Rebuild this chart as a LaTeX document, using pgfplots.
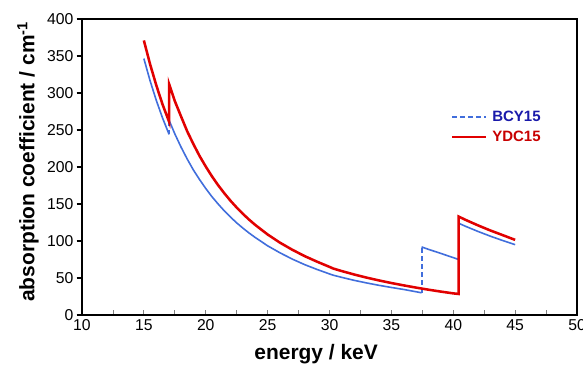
\documentclass[border=0pt]{standalone}
\usepackage{pgfplots}
\pgfplotsset{compat=1.18}
\usepackage{fontspec}
\setmainfont{Liberation Sans}
\definecolor{bcyline}{RGB}{65,110,220}
\definecolor{bcytext}{RGB}{25,25,170}
\definecolor{ydcline}{RGB}{225,0,0}
\definecolor{ydctext}{RGB}{200,0,0}
\tikzset{bcydash/.style={color=bcyline, draw=bcyline, line width=1.3pt, dash pattern=on 3.5pt off 2.5pt}}
\begin{document}
\begin{tikzpicture}
\begin{axis}[
  name=ax,
  scale only axis, width=371.25pt, height=222pt,
  xmin=10, xmax=50, ymin=0, ymax=400,
  xtick={10,15,...,50}, minor xtick={12.5,17.5,...,47.5},
  ytick={0,50,...,400},
  xtick pos=bottom, ytick pos=left,
  tick align=inside,
  major tick length=4pt, minor tick length=4pt,
  y tick style={xshift=-4pt, line width=0.8pt, black},
  x tick style={line width=0.6pt, gray},
  axis line style={line width=1.5pt},
  /pgf/number format/assume math mode=true,
  ticklabel style={font=\fontsize{11.8}{14}\selectfont},
  yticklabel style={xshift=-3pt},
  xlabel={energy / keV},
  ylabel={absorption coefficient / cm\textsuperscript{-1}},
  xlabel style={font=\fontsize{15.7}{18}\selectfont\bfseries, at={(axis description cs:0.473,-0.132)}, anchor=center},
  ylabel style={font=\fontsize{15.7}{18}\selectfont\bfseries, at={(axis description cs:-0.109,0.518)}, anchor=center},
  legend style={at={(axis cs:39.5,283.5)}, anchor=north west, draw=none, fill=none,
    font=\fontsize{11.25}{13}\selectfont\bfseries, row sep=1.8pt},
  legend cell align=left,
  legend image code/.code={\draw[#1] (0pt,0pt) -- (25pt,0pt);},
]
\addlegendimage{bcydash}
\addlegendentry{\hspace{2pt}\textcolor{bcytext}{BCY15}}
\addlegendimage{color=ydcline, line width=1.7pt}
\addlegendentry{\hspace{2pt}\textcolor{ydctext}{YDC15}}
% BCY15
\addplot[color=bcyline, line width=1.2pt, forget plot] coordinates {
 (15.0,346.5)(15.5,316.6)(16.0,290.2)(16.5,266.6)(17.04,244)};
\addplot[bcydash, line width=1.4pt, forget plot] coordinates {
 (17.04,244)(17.04,263)};
\addplot[color=bcyline, line width=1.2pt, forget plot] coordinates {
 (17.04,263)(17.5,244.8)(18,227)(18.5,210.8)(19,196)(19.5,183)(20,171)(20.5,159.9)(21,150)(21.5,140.7)(22,132.3)(22.5,124.5)(23,117.4)(23.5,110.8)(24,104.7)(25,93.5)(26,84)(27,75.5)(28,68)(29,61.5)(30,55.5)(30.3,53.8)(31,50.8)(32,46.8)(33,43.3)(34,40.1)(35,37.2)(36,34.5)(37,31.4)(37.44,30)};
\addplot[bcydash, line width=1.5pt, forget plot] coordinates {
 (37.44,30)(37.44,92)};
\addplot[color=bcyline, line width=1.2pt, forget plot] coordinates {
 (37.44,92)(38,88.7)(39,83.2)(40,77.5)(40.44,75)};
\addplot[bcydash, line width=1.4pt, forget plot] coordinates {
 (40.44,75)(40.44,124)};
\addplot[color=bcyline, line width=1.2pt, forget plot] coordinates {
 (40.44,124)(41,119.8)(42,112.9)(43,106.5)(44,100.6)(45,95)};
% YDC15
\addplot[color=ydcline, line width=1.9pt, forget plot] coordinates {
 (15,371)(15.5,339)(16,310.6)(16.5,285)(17.04,261)(17.04,312)(17.5,289.1)(18,268.5)(18.5,248.3)(19,231)(19.5,214.9)(20,200.6)(20.5,187.4)(21,175.4)(21.5,164.5)(22,154.4)(22.5,145.2)(23,136.7)(23.5,128.9)(24,121.7)(25,108.8)(26,97.7)(27,88.1)(28,79.5)(29,72)(30,65)(30.3,62.8)(31,59.3)(32,54.7)(33,50.5)(34,46.7)(35,43.2)(36,40)(37,37)(38,34.2)(39,31.6)(40,29.2)(40.44,28.4)(40.44,133)(41,128.5)(42,121.1)(43,114.2)(44,107.9)(45,101.5)};
\end{axis}
\pgfresetboundingbox
\useasboundingbox ([shift={(-61.5pt,-37.5pt)}]ax.south west) rectangle ([shift={(4.5pt,14.25pt)}]ax.north east);
\end{tikzpicture}
\end{document}
